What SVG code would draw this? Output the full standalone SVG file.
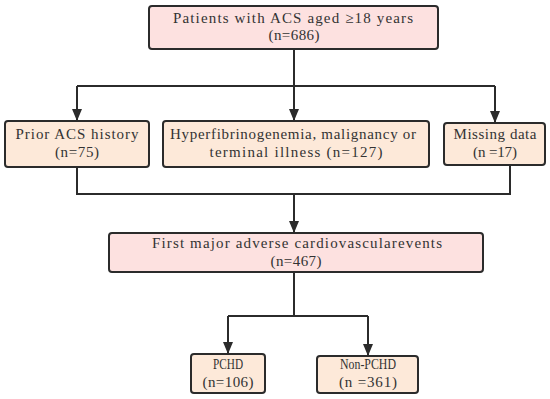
<svg xmlns="http://www.w3.org/2000/svg" width="550" height="399" viewBox="0 0 550 399">
<style>
.bg{fill:#ffffff}
.pink{fill:#fde1e0;stroke:#2b2b2b;stroke-width:2}
.peach{fill:#fde9d9;stroke:#2b2b2b;stroke-width:2}
.t{font-family:"Liberation Serif","DejaVu Serif",serif;font-size:15px;fill:#333333;text-anchor:middle}
.c{fill:none;stroke:#2b2b2b;stroke-width:2}
</style>
<defs>
<marker id="arr" markerUnits="userSpaceOnUse" viewBox="0 0 12 10" refX="12" refY="5" markerWidth="12" markerHeight="10" orient="auto">
<path d="M0,0 L12,5 L0,10 z" fill="#2b2b2b"/>
</marker>
</defs>
<rect class="bg" x="0" y="0" width="550" height="399"/>
<g id="connectors">
<path class="c" d="M294 49 V86"/>
<path class="c" d="M77 86 H495"/>
<path class="c" d="M77 86 V121" marker-end="url(#arr)"/>
<path class="c" d="M294 86 V121" marker-end="url(#arr)"/>
<path class="c" d="M495 86 V123" marker-end="url(#arr)"/>
<path class="c" d="M77 167 V194 H510 V165"/>
<path class="c" d="M294 194 V233" marker-end="url(#arr)"/>
<path class="c" d="M294 272 V316"/>
<path class="c" d="M228 316 H368"/>
<path class="c" d="M228 316 V354" marker-end="url(#arr)"/>
<path class="c" d="M368 316 V356" marker-end="url(#arr)"/>
</g>
<g id="patients">
<rect class="pink" x="149" y="6" width="289" height="43" rx="3"/>
<text class="t" x="293" y="23" textLength="240" lengthAdjust="spacing">Patients with ACS aged ≥18 years</text>
<text class="t" x="294" y="40" textLength="51" lengthAdjust="spacing">(n=686)</text>
</g>
<g id="prior">
<rect class="peach" x="5" y="121" width="144" height="46" rx="3"/>
<text class="t" x="77" y="139" textLength="123" lengthAdjust="spacing">Prior ACS history</text>
<text class="t" x="77" y="157" textLength="44" lengthAdjust="spacing">(n=75)</text>
</g>
<g id="hyper">
<rect class="peach" x="163" y="121" width="266" height="46" rx="3"/>
<text class="t" x="293" y="139" textLength="246" lengthAdjust="spacing">Hyperfibrinogenemia, malignancy or</text>
<text class="t" x="296" y="157" textLength="173" lengthAdjust="spacing">terminal illness (n=127)</text>
</g>
<g id="missing">
<rect class="peach" x="444" y="123" width="101" height="42" rx="3"/>
<text class="t" x="495" y="139" textLength="83" lengthAdjust="spacing">Missing data</text>
<text class="t" x="495" y="157" textLength="44" lengthAdjust="spacing">(n =17)</text>
</g>
<g id="first">
<rect class="pink" x="109" y="233" width="374" height="39" rx="3"/>
<text class="t" x="297" y="248" textLength="290" lengthAdjust="spacing">First major adverse cardiovascularevents</text>
<text class="t" x="296" y="266" textLength="51" lengthAdjust="spacing">(n=467)</text>
</g>
<g id="pchd">
<rect class="peach" x="191" y="354" width="74" height="39" rx="3"/>
<text class="t" x="228" y="369" textLength="30" lengthAdjust="spacingAndGlyphs">PCHD</text>
<text class="t" x="228" y="387" textLength="51" lengthAdjust="spacing">(n=106)</text>
</g>
<g id="nonpchd">
<rect class="peach" x="317" y="356" width="101" height="37" rx="3"/>
<text class="t" x="368" y="369" textLength="56" lengthAdjust="spacingAndGlyphs">Non-PCHD</text>
<text class="t" x="368" y="387" textLength="58" lengthAdjust="spacing">(n =361)</text>
</g>
</svg>
